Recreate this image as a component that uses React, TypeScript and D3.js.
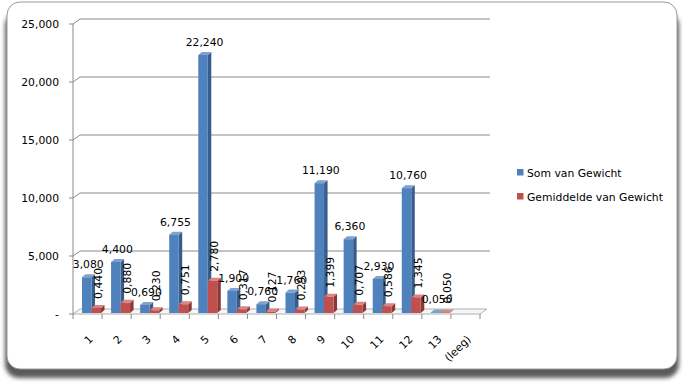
import React from "react";
import * as d3 from "d3";

const categories = ["1", "2", "3", "4", "5", "6", "7", "8", "9", "10", "11", "12", "13", "(leeg)"];
const somValues = [3080, 4400, 690, 6755, 22240, 1900, 760, 1760, 11190, 6360, 2930, 10760, 50, null];
const gemValues = [440, 880, 230, 751, 2780, 317, 127, 293, 1399, 707, 586, 1345, 50, null];
const yTicks = [0, 5000, 10000, 15000, 20000, 25000];
const seriesNames = ["Som van Gewicht", "Gemiddelde van Gewicht"];

const FONT = "'DejaVu Sans', Verdana, sans-serif";
const FS = 10.8;

const fmtAxis = (v: number) => (v === 0 ? "-" : d3.format(",")(v));
const fmtLabel = (v: number) => {
  const th = Math.floor(v / 1000);
  const rest = v % 1000;
  return `${th},${String(rest).padStart(3, "0")}`;
};

export default function App() {
  const W = 683, H = 384;
  const DX = 7, DY = -5; // wall depth offset
  const x0 = 73, x1 = 480;
  const yFront = d3.scaleLinear().domain([0, 25000]).range([314, 24]);
  const yBar = d3.scaleLinear().domain([0, 25000]).range([313, 23]);
  const xBand = d3.scaleBand<string>().domain(categories).range([x0, x1]).padding(0);
  const bw = 9.5;
  const bdx = 3.5, bdy = -3;
  const colors = [
    { front: "#4F81BD", side: "#385D8A", top: "#7DA1D0" },
    { front: "#C0504D", side: "#8C3836", top: "#D88583" },
  ];
  const grid = "#8a8a8a";

  const bars: React.ReactNode[] = [];
  const labels: React.ReactNode[] = [];
  categories.forEach((c, i) => {
    const band = xBand(c)!;
    [somValues[i], gemValues[i]].forEach((v, s) => {
      if (v == null) return;
      const bx = band + 9 + s * bw;
      const yt = yBar(v);
      const yb = yBar(0);
      const col = colors[s];
      bars.push(
        <g key={`b${i}-${s}`}>
          <polygon points={`${bx + bw},${yb} ${bx + bw + bdx},${yb + bdy} ${bx + bw + bdx},${yt + bdy} ${bx + bw},${yt}`} fill={col.side} />
          <polygon points={`${bx},${yt} ${bx + bdx},${yt + bdy} ${bx + bw + bdx},${yt + bdy} ${bx + bw},${yt}`} fill={col.top} />
          <rect x={bx} y={yt} width={bw} height={yb - yt} fill={col.front} />
        </g>
      );
      const cx = bx + bw / 2 + 1.5;
      if (s === 0) {
        labels.push(
          <text key={`l${i}-${s}`} x={cx} y={yt + bdy - 6} textAnchor="middle" fontSize={FS} fontFamily={FONT} fill="#000">
            {fmtLabel(v)}
          </text>
        );
      } else {
        labels.push(
          <text key={`l${i}-${s}`} transform={`translate(${cx + 4},${yt + bdy - 6}) rotate(-90)`} textAnchor="start" fontSize={FS} fontFamily={FONT} fill="#000">
            {fmtLabel(v)}
          </text>
        );
      }
    });
  });

  return (
    <svg width={W} height={H} style={{ position: "absolute", left: 0, top: 0 }}>
      <defs>
        <filter id="sh" x="-5%" y="-5%" width="110%" height="120%">
          <feGaussianBlur stdDeviation="2" />
        </filter>
      </defs>
      <rect x={5} y={12} width={674} height={366} rx={14} fill="#5a5a5a" filter="url(#sh)" />
      <rect x={7} y={2} width={670} height={367} rx={13} fill="#fff" stroke="#9a9a9a" strokeWidth={1} />

      {/* floor */}
      <polygon points={`${x0},${yFront(0)} ${x1},${yFront(0)} ${x1 + DX},${yFront(0) + DY} ${x0 + DX},${yFront(0) + DY}`} fill="#f6f6f6" stroke="#b0b0b0" strokeWidth={1} />
      {/* gridlines */}
      {yTicks.map((t) => (
        <g key={t}>
          {t > 0 && (
            <path d={`M${x0},${yFront(t)}L${x0 + DX},${yFront(t) + DY}H${x1 + DX + 3}`} fill="none" stroke={grid} strokeWidth={1} />
          )}
          <line x1={x0 - 4} x2={x0} y1={yFront(t)} y2={yFront(t)} stroke={grid} />
          <text x={59} y={yFront(t) + 4} textAnchor="end" fontSize={FS} fontFamily={FONT} fill="#000">
            {fmtAxis(t)}
          </text>
        </g>
      ))}
      <line x1={x0} x2={x0} y1={yFront(25000)} y2={yFront(0)} stroke={grid} />
      {/* category ticks */}
      {d3.range(categories.length + 1).map((k) => {
        const x = x0 + k * xBand.step();
        return <line key={k} x1={x} x2={x} y1={yFront(0)} y2={yFront(0) + 5} stroke={grid} />;
      })}
      {bars}
      {labels}
      {categories.map((c) => {
        const cx = xBand(c)! + xBand.bandwidth() / 2;
        return (
          <text key={c} transform={`translate(${cx + 6},${340}) rotate(-45)`} textAnchor="end" fontSize={FS} fontFamily={FONT} fill="#000">
            {c}
          </text>
        );
      })}
      {/* legend */}
      {seriesNames.map((n, s) => (
        <g key={n} transform={`translate(517,${169 + s * 24})`}>
          <rect x={0} y={0} width={6.5} height={6.5} fill={colors[s].front} />
          <text x={10} y={7.5} fontSize={FS} fontFamily={FONT} fill="#000">
            {n}
          </text>
        </g>
      ))}
    </svg>
  );
}
